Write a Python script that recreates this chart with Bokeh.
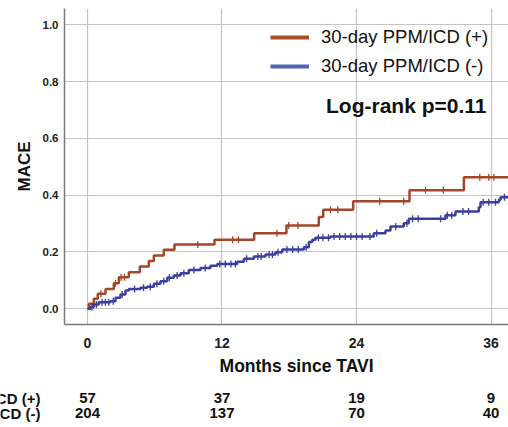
import numpy as np
from bokeh.plotting import figure
from bokeh.layouts import column
from bokeh.models import (Range1d, FixedTicker, NumeralTickFormatter, Label,
                          Legend, LegendItem)
from bokeh.core.properties import value
from bokeh.embed import file_html
from bokeh.resources import INLINE

# ---- data ----
pos_label = "30-day PPM/ICD (+)"
neg_label = "30-day PPM/ICD (-)"

pos_t = [0, 0.12, 0.57, 0.92, 1.61, 2.35, 2.80, 3.69, 4.67, 5.47, 5.92, 6.81,
         7.76, 11.33, 14.87, 17.75, 20.64, 21.03, 23.7, 28.73, 33.58, 37.6]
pos_s = [0, 0.018, 0.035, 0.053, 0.070, 0.090, 0.111, 0.129, 0.149, 0.168,
         0.188, 0.208, 0.226, 0.243, 0.266, 0.293, 0.323, 0.349, 0.379, 0.417,
         0.463, 0.463]
pos_cens = [1.2, 2.5, 3.0, 3.3, 9.84, 12.95, 13.47, 16.9, 17.96, 18.77, 21.68,
            22.33, 26.08, 28.22, 30.16, 31.74, 35.0, 35.8, 36.25]

neg_t = [0, 0.27, 0.57, 1.01, 2.05, 2.50, 2.94, 3.39, 3.69, 4.73, 5.32, 5.92,
         6.51, 7.11, 7.70, 8.30, 9.04, 10.08, 10.97, 11.57, 13.36, 13.95, 14.84,
         15.88, 16.77, 17.37, 19.30, 19.75, 20.05, 20.34, 21.68, 25.54, 26.59,
         27.03, 28.22, 28.67, 31.94, 32.83, 34.91, 35.06, 36.70, 36.85, 37.6]
neg_s = [0, 0.006, 0.015, 0.023, 0.027, 0.039, 0.050, 0.064, 0.070, 0.074,
         0.078, 0.088, 0.097, 0.109, 0.117, 0.125, 0.137, 0.144, 0.152, 0.158,
         0.166, 0.176, 0.184, 0.191, 0.199, 0.209, 0.217, 0.235, 0.243, 0.250,
         0.255, 0.266, 0.276, 0.290, 0.301, 0.317, 0.329, 0.343, 0.358, 0.375,
         0.384, 0.393, 0.393]
neg_cens = [0.4, 0.8, 1.3, 1.6, 1.9, 2.3, 3.1, 4.2, 5.0, 5.6, 6.2, 6.8, 7.3,
            8.0, 8.6, 9.5, 10.5, 11.8, 12.3, 12.8, 13.2, 14.2, 15.2, 15.5, 16.2,
            16.5, 17.0, 17.8, 18.3, 18.8, 19.5, 20.6, 21.0, 21.5, 22.0, 22.5,
            23.0, 23.5, 24.0, 24.5, 25.2, 25.8, 27.5, 28.5, 29.0, 29.5, 31.5,
            32.1, 32.5, 33.5, 34.0, 35.3, 35.8, 36.4, 37.2]

risk_times = [0, 12, 24, 36]
risk_pos = [57, 37, 19, 9]
risk_neg = [204, 137, 70, 40]

x_ticks = [0, 12, 24, 36]
y_ticks = [0.0, 0.2, 0.4, 0.6, 0.8, 1.0]

x_title = "Months since TAVI"
y_title = "MACE"
stat_text = "Log-rank p=0.11"

# ---- style / layout ----
RED = "#A3472A"
BLUE = "#3B3F9E"
RED_LEG = "#A5502B"
BLUE_LEG = "#4A68B4"
INK = "#111111"
FONT = "Liberation Sans"
X_MIN, X_MAX = -2.05, 37.56
FRAME_LEFT = 64                       # px of the plot frame's left edge
PX_PER_MONTH = (508 - FRAME_LEFT) / (X_MAX - X_MIN)

p = figure(width=508, height=352, output_backend="svg", toolbar_location=None,
           x_range=Range1d(X_MIN, X_MAX), y_range=Range1d(-0.0553, 1.0574),
           min_border_left=FRAME_LEFT, min_border_right=0, min_border_top=8,
           min_border_bottom=28)
p.frame_align = False
p.outline_line_color = None

for ax in (p.xaxis[0], p.yaxis[0]):
    ax.axis_line_color = "#7a7a7a"
    ax.axis_line_width = 1.5
    ax.major_tick_line_color = None
    ax.minor_tick_line_color = None
    ax.major_label_text_font = FONT
    ax.major_label_text_font_style = "bold"
    ax.major_label_text_color = "#222222"

p.xaxis.ticker = FixedTicker(ticks=x_ticks)
p.yaxis.ticker = FixedTicker(ticks=y_ticks)
p.yaxis.formatter = NumeralTickFormatter(format="0.0")
p.xaxis.major_label_text_font_size = "14px"
p.yaxis.major_label_text_font_size = "11.5px"
p.xaxis.major_label_standoff = 7
p.yaxis.major_label_standoff = 0

p.yaxis.axis_label = y_title
p.yaxis.axis_label_text_font = FONT
p.yaxis.axis_label_text_font_size = "17px"
p.yaxis.axis_label_text_font_style = "bold"
p.yaxis.axis_label_text_color = INK
p.yaxis.axis_label_standoff = 6

p.grid.grid_line_color = "#c4c4c4"
p.grid.grid_line_width = 1.2


def step_value(ts, ss, x):
    i = np.searchsorted(np.array(ts), np.array(x), side="right") - 1
    return np.array(ss)[i]


p.step(pos_t, pos_s, mode="after", line_color=RED, line_width=2.5)
p.step(neg_t, neg_s, mode="after", line_color=BLUE, line_width=2.5)
p.scatter(pos_cens, step_value(pos_t, pos_s, pos_cens), marker="dash",
          angle=np.pi / 2, size=7, line_color=RED, line_width=1.3)
p.scatter(neg_cens, step_value(neg_t, neg_s, neg_cens), marker="dash",
          angle=np.pi / 2, size=7, line_color=BLUE, line_width=1.3)

leg_pos = p.line([np.nan], [np.nan], line_color=RED_LEG, line_width=4)
leg_neg = p.line([np.nan], [np.nan], line_color=BLUE_LEG, line_width=4)
legend = Legend(items=[LegendItem(label=pos_label, renderers=[leg_pos]),
                       LegendItem(label=neg_label, renderers=[leg_neg])],
                location=(206, 247), padding=0, margin=0, spacing=7,
                glyph_width=39, glyph_height=20, label_height=20,
                label_standoff=12, border_line_alpha=0,
                background_fill_alpha=0,
                label_text_font=FONT, label_text_font_size="18.5px",
                label_text_color=INK)
p.add_layout(legend)

p.add_layout(Label(x=422, y=219, x_units="screen", y_units="screen",
                   text=stat_text, text_align="right",
                   text_baseline="middle", text_font=FONT,
                   text_font_size="21px", text_font_style="bold",
                   text_color=INK))

# ---- bottom strip: x title and numbers at risk, same month scale but a
#      frame that spans the whole width so that the row names can show ----
q = figure(width=508, height=75, output_backend="svg", toolbar_location=None,
           x_range=Range1d(X_MIN - FRAME_LEFT / PX_PER_MONTH, X_MAX),
           y_range=Range1d(75, 0),
           x_axis_location=None, y_axis_location=None,
           min_border_left=0, min_border_right=0, min_border_top=0,
           min_border_bottom=0)
q.frame_align = False
q.grid.visible = False
q.outline_line_color = None

TITLE_X = 18.65
ROW_LABEL_X = -4.2
ROW_Y = [45.7, 60.5]
TITLE_Y = 13.5

q.text(x=[TITLE_X], y=[TITLE_Y], text=[x_title], text_font=value(FONT),
       text_font_size="17.5px", text_font_style="bold", text_color=INK,
       text_align="center", text_baseline="middle")
for row_y, row_label, row_vals in [(ROW_Y[0], pos_label, risk_pos),
                                   (ROW_Y[1], neg_label, risk_neg)]:
    q.text(x=[ROW_LABEL_X], y=[row_y], text=[row_label], text_font=value(FONT),
           text_font_size="15px", text_font_style="bold", text_color=INK,
           text_align="right", text_baseline="middle")
    q.text(x=risk_times, y=[row_y] * len(risk_times),
           text=[str(v) for v in row_vals], text_font=value(FONT),
           text_font_size="15px", text_font_style="bold", text_color=INK,
           text_align="center", text_baseline="middle")

layout = column(p, q, spacing=0)
open("out.html", "w").write(file_html(layout, INLINE))
